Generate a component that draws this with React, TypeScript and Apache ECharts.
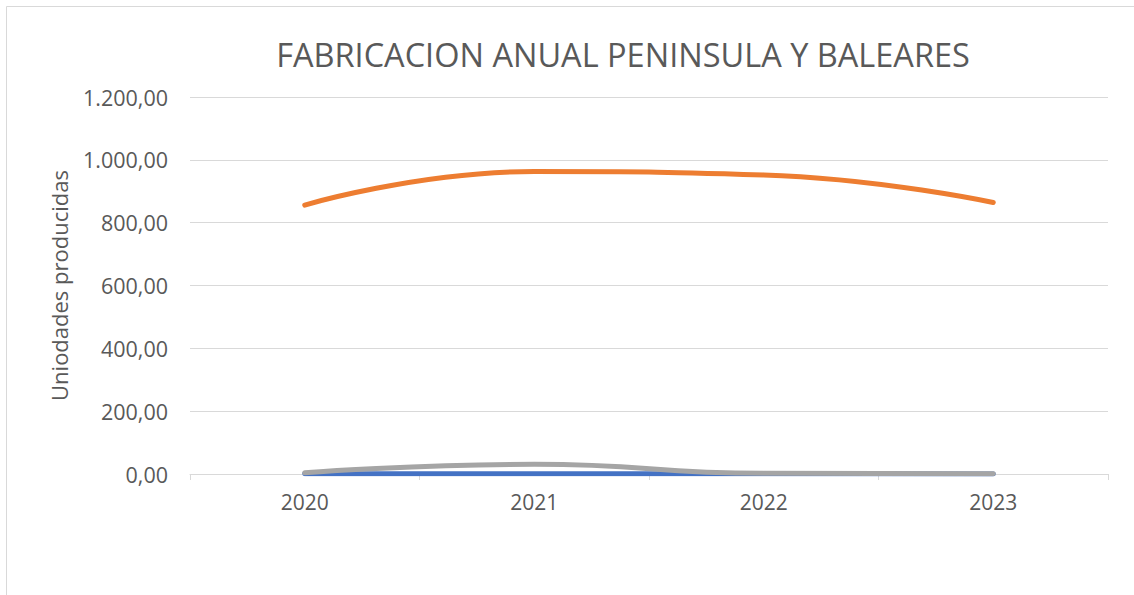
import React, { useEffect, useRef } from "react";
import * as echarts from "echarts";

const categories = ["2020", "2021", "2022", "2023"];
const seriesBlue = [0.5, 1, 0.5, 0.3];
const seriesOrange = [856, 963, 952, 864];
const seriesGray = [4, 31, 2, 1];
const yTicks = [0, 200, 400, 600, 800, 1000, 1200];

const fmt = (v: number) => {
  const fixed = v.toFixed(2);
  const [intPart, dec] = fixed.split(".");
  const withDots = intPart.replace(/\B(?=(\d{3})+(?!\d))/g, ".");
  return withDots + "," + dec;
};

const FONT = "'Open Sans', sans-serif";
const TEXT = "#595959";

export default function App() {
  const ref = useRef<HTMLDivElement>(null);
  useEffect(() => {
    if (!ref.current) return;
    const chart = echarts.init(ref.current, undefined, { renderer: "svg" });
    chart.setOption({
      animation: false,
      backgroundColor: "#ffffff",
      title: {
        text: "FABRICACION ANUAL PENINSULA Y BALEARES",
        left: 618,
        top: 33,
        textAlign: "center",
        textStyle: { fontFamily: FONT, fontSize: 32.5, fontWeight: "normal", color: TEXT },
      },
      graphic: [
        {
          type: "rect",
          shape: { x: 6.5, y: 6.5, width: 1140, height: 600 },
          style: { fill: "none", stroke: "#D9D9D9", lineWidth: 1 },
          silent: true,
        },
      ],
      grid: { left: 190, right: 26, top: 97, bottom: 121, containLabel: false },
      xAxis: {
        type: "category",
        data: categories,
        boundaryGap: true,
        axisLine: { lineStyle: { color: "#D9D9D9", width: 1 } },
        axisTick: { show: true, length: 6, lineStyle: { color: "#D9D9D9" } },
        axisLabel: { fontFamily: FONT, fontSize: 21, color: TEXT, margin: 17 },
      },
      yAxis: {
        type: "value",
        min: yTicks[0],
        max: yTicks[yTicks.length - 1],
        interval: 200,
        name: "Uniodades producidas",
        nameLocation: "middle",
        nameGap: 120,
        nameRotate: 90,
        nameTextStyle: { fontFamily: FONT, fontSize: 22, color: TEXT },
        axisLine: { show: false },
        axisTick: { show: false },
        axisLabel: {
          fontFamily: FONT,
          fontSize: 21.5,
          color: TEXT,
          margin: 22,
          formatter: (v: number) => fmt(v),
        },
        splitLine: { lineStyle: { color: "#D9D9D9", width: 1 } },
      },
      series: [
        {
          type: "line",
          name: "Serie1",
          data: seriesBlue,
          smooth: 0.5,
          symbol: "none",
          lineStyle: { color: "#4472C4", width: 5, cap: "round" },
          itemStyle: { color: "#4472C4" },
        },
        {
          type: "line",
          name: "Serie2",
          data: seriesOrange,
          smooth: 0.5,
          symbol: "none",
          lineStyle: { color: "#ED7D31", width: 5, cap: "round" },
          itemStyle: { color: "#ED7D31" },
        },
        {
          type: "line",
          name: "Serie3",
          data: seriesGray,
          smooth: 0.5,
          symbol: "none",
          lineStyle: { color: "#A5A5A5", width: 5, cap: "round" },
          itemStyle: { color: "#A5A5A5" },
        },
      ],
    });
    return () => chart.dispose();
  }, []);
  return (
    <div
      ref={ref}
      style={{ position: "fixed", left: 0, top: 0, width: 1134, height: 595 }}
    />
  );
}
